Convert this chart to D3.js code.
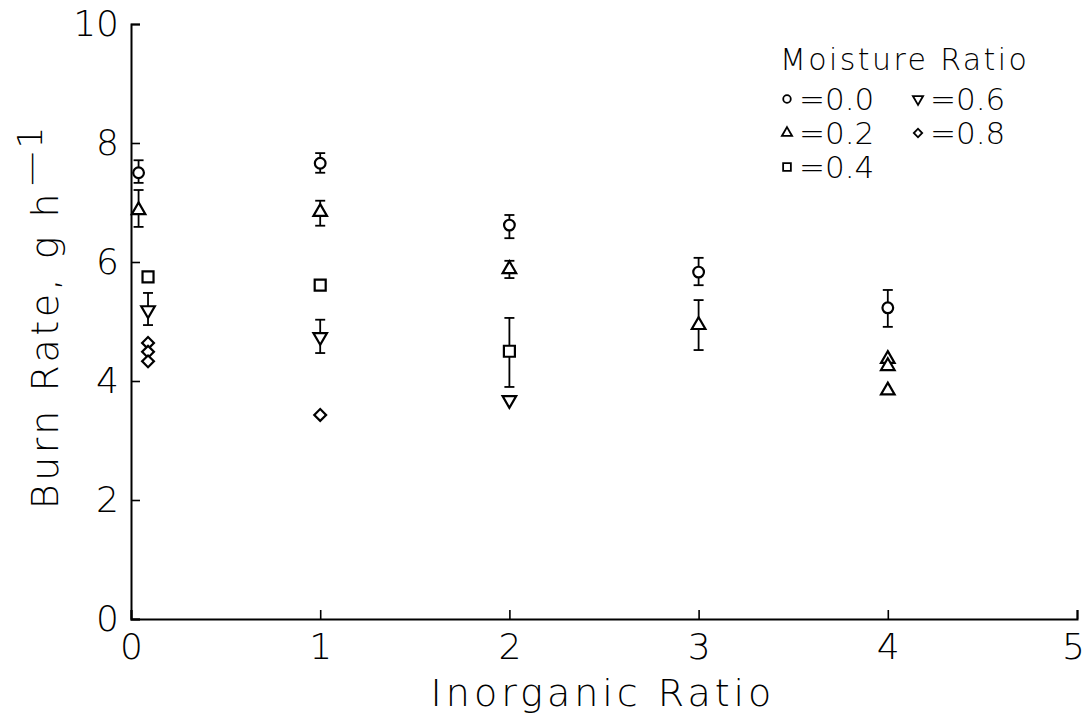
<!DOCTYPE html>
<html>
<head>
<meta charset="utf-8">
<script src="https://cdn.jsdelivr.net/npm/d3@7"></script>
<style>
  body { margin: 0; background: #fff; }
  text { font-family: "DejaVu Sans", sans-serif; font-weight: 200; fill: #000; }
</style>
</head>
<body>
<div class="canvas"></div>
<script>
// data: [inorganic ratio, burn rate, err low, err high]
const circle00 = [[0.04, 7.50, 7.33, 7.71], [1, 7.66, 7.50, 7.83], [2, 6.62, 6.40, 6.79], [3, 5.83, 5.61, 6.07], [4, 5.23, 4.91, 5.53]];
const triangle02 = [[0.04, 6.87, 6.59, 7.21], [1, 6.84, 6.61, 7.03], [2, 5.88, 5.73, 6.02], [3, 4.94, 4.52, 5.36], [4, 4.37], [4, 4.25], [4, 3.84]];
const square04 = [[0.09, 5.75], [1, 5.61], [2, 4.50, 3.90, 5.06]];
const down06 = [[0.09, 5.19, 4.94, 5.48], [1, 4.74, 4.47, 5.03], [2, 3.68]];
const diamond08 = [[0.09, 4.64], [0.09, 4.49], [0.09, 4.33], [1, 3.43]];

const xTicks = [0, 1, 2, 3, 4, 5];
const yTicks = [0, 2, 4, 6, 8, 10];
const legendLabels = ['=0.0', '=0.2', '=0.4', '=0.6', '=0.8'];

const width = 1086, height = 725;
const svg = d3.select('.canvas')
  .append('svg')
  .attr('width', width)
  .attr('height', height);

const x = d3.scaleLinear().domain([0, 5]).range([131, 1077]);
const y = d3.scaleLinear().domain([0, 10]).range([619, 24]);

// axes
const xAxis = d3.axisBottom(x).tickValues(xTicks).tickFormat(d3.format('d')).tickSize(-9).tickPadding(14);
const yAxis = d3.axisLeft(y).tickValues(yTicks).tickFormat(d3.format('d')).tickSize(-9).tickPadding(12);

const xg = svg.append('g').attr('transform', `translate(0,${y(0)})`).call(xAxis);
const yg = svg.append('g').attr('transform', `translate(${x(0)},0)`).call(yAxis);

[xg, yg].forEach(g => {
  g.select('.domain').attr('stroke', '#000').attr('stroke-width', 2);
  g.selectAll('.tick line').attr('stroke', '#000').attr('stroke-width', 1.6);
  g.selectAll('.tick text').attr('font-size', 36).attr('fill', '#000')
    .attr('font-family', '"DejaVu Sans", sans-serif').attr('font-weight', 200);
});
xg.selectAll('.tick text').attr('dy', '0.72em');
xg.selectAll('.tick text').filter(d => d === 5).attr('dx', -4);

// axis titles
svg.append('text')
  .attr('x', 603).attr('y', 706)
  .attr('text-anchor', 'middle')
  .attr('font-size', 38)
  .attr('letter-spacing', 4)
  .text('Inorganic Ratio');

const ylab = svg.append('text')
  .attr('transform', 'translate(58,318) rotate(-90)')
  .attr('text-anchor', 'middle')
  .attr('font-size', 38)
  .attr('letter-spacing', 3.5);
ylab.append('tspan').text('Burn Rate, g h');
ylab.append('tspan').attr('dy', -16).attr('dx', 4).attr('font-size', 34)
  .attr('letter-spacing', 0).text('\u2014\u200a1');

// symbols
const sym = {
  circle: d3.symbol().type(d3.symbolCircle).size(90),
  triangle: d3.symbol().type(d3.symbolTriangle).size(80),
  square: d3.symbol().type(d3.symbolSquare).size(121),
  diamond: d3.symbol().type(d3.symbolSquare).size(70)
};

const series = [
  { data: circle00, shape: 'circle', rot: 0 },
  { data: triangle02, shape: 'triangle', rot: 0 },
  { data: square04, shape: 'square', rot: 0 },
  { data: down06, shape: 'triangle', rot: 180 },
  { data: diamond08, shape: 'diamond', rot: 45 }
];

const plot = svg.append('g');
const cap = 5;

series.forEach(s => {
  const withErr = s.data.filter(d => d.length === 4);
  const eb = plot.append('g').selectAll('g').data(withErr).enter().append('g')
    .attr('stroke', '#000').attr('stroke-width', 1.8);
  eb.append('line')
    .attr('x1', d => x(d[0])).attr('x2', d => x(d[0]))
    .attr('y1', d => y(d[2])).attr('y2', d => y(d[3]));
  eb.append('line')
    .attr('x1', d => x(d[0]) - cap).attr('x2', d => x(d[0]) + cap)
    .attr('y1', d => y(d[3])).attr('y2', d => y(d[3]));
  eb.append('line')
    .attr('x1', d => x(d[0]) - cap).attr('x2', d => x(d[0]) + cap)
    .attr('y1', d => y(d[2])).attr('y2', d => y(d[2]));

  plot.append('g').selectAll('path').data(s.data).enter().append('path')
    .attr('d', sym[s.shape])
    .attr('transform', d => `translate(${x(d[0])},${y(d[1])}) rotate(${s.rot})`)
    .attr('fill', '#fff')
    .attr('stroke', '#000')
    .attr('stroke-width', 2.2);
});

// legend
const legend = svg.append('g');
legend.append('text')
  .attr('x', 780).attr('y', 70)
  .attr('font-size', 30)
  .attr('letter-spacing', 2.4)
  .text('Moisture Ratio');

const legSym = {
  circle: d3.symbol().type(d3.symbolCircle).size(45),
  triangle: d3.symbol().type(d3.symbolTriangle).size(45),
  square: d3.symbol().type(d3.symbolSquare).size(60),
  diamond: d3.symbol().type(d3.symbolSquare).size(35)
};

series.forEach((s, i) => {
  const col = i < 3 ? 0 : 1;
  const row = i < 3 ? i : i - 3;
  const lx = 787 + col * 131;
  const ly = 99 + row * 34;
  legend.append('path')
    .attr('d', legSym[s.shape])
    .attr('transform', `translate(${lx},${ly}) rotate(${s.rot})`)
    .attr('fill', '#fff').attr('stroke', '#000').attr('stroke-width', 1.8);
  legend.append('text')
    .attr('x', lx + 12).attr('y', ly + 11)
    .attr('font-size', 31)
    .text(legendLabels[i]);
});
</script>
</body>
</html>
